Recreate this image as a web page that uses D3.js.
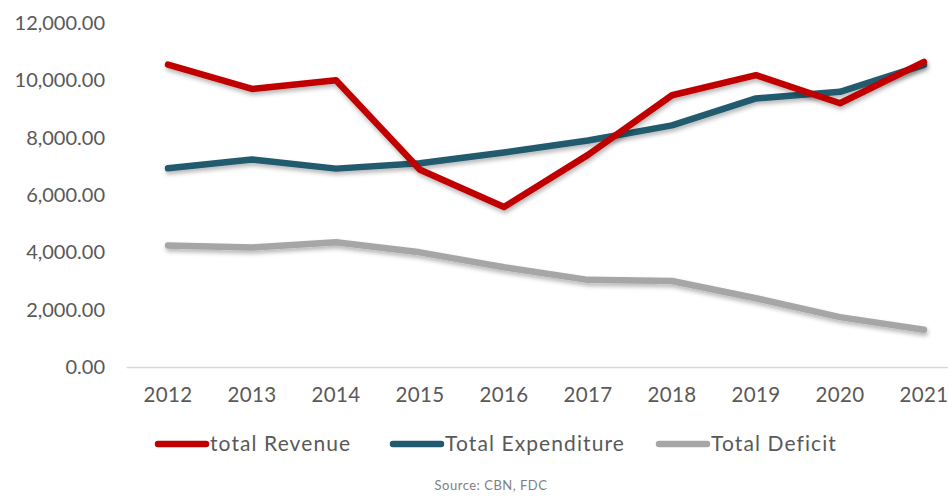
<!DOCTYPE html>
<html>
<head>
<meta charset="utf-8">
<script src="https://cdn.jsdelivr.net/npm/d3@7"></script>
<style>
  html, body { margin: 0; padding: 0; background: #fff; }
  svg { display: block; font-family: "Lato", "Open Sans", sans-serif; }
</style>
</head>
<body>
<svg id="chart" width="948" height="498"></svg>
<script>
// Nigeria federal finances, 2012–2021 (₦ billion)
const years = ["2012", "2013", "2014", "2015", "2016", "2017", "2018", "2019", "2020", "2021"];
const totalRevenue     = [10550, 9700, 10000, 6880, 5580, 7400, 9480, 10180, 9200, 10640];
const totalExpenditure = [6930, 7240, 6920, 7110, 7480, 7900, 8430, 9370, 9600, 10540];
const totalDeficit     = [4240, 4170, 4350, 4000, 3480, 3040, 3000, 2400, 1740, 1300];
const yTicks = [0, 2000, 4000, 6000, 8000, 10000, 12000];
const seriesNames = ["total Revenue", "Total Expenditure", "Total Deficit"];
const seriesColors = ["#c00000", "#215a6e", "#a6a6a6"];
const sourceNote = "Source: CBN, FDC";

const series = [totalRevenue, totalExpenditure, totalDeficit].map((vals, i) => ({
  name: seriesNames[i], color: seriesColors[i],
  values: vals.map((v, j) => ({ year: years[j], value: v }))
}));

const svg = d3.select("#chart");

const x = d3.scaleBand().domain(years).range([126, 966]).padding(0);
const y = d3.scaleLinear().domain([0, 12000]).range([367, 23]);

// soft shadow under the lines
const defs = svg.append("defs");
const f = defs.append("filter").attr("id", "shadow")
  .attr("x", "-5%").attr("y", "-20%").attr("width", "110%").attr("height", "140%");
f.append("feDropShadow").attr("dx", 1).attr("dy", 3).attr("stdDeviation", 2)
  .attr("flood-color", "#000").attr("flood-opacity", 0.28);

// y axis labels
const yAxis = d3.axisLeft(y).tickValues(yTicks).tickSize(0).tickPadding(0)
  .tickFormat(d3.format(",.2f"));
const gy = svg.append("g").attr("transform", "translate(105,0)").call(yAxis);
gy.select(".domain").remove();
gy.selectAll("text").attr("font-size", 20).attr("fill", "#595959")
  .attr("font-family", "Lato, 'Open Sans', sans-serif");

// x axis
const xAxis = d3.axisBottom(x).tickSize(0).tickPadding(20);
const gx = svg.append("g").attr("transform", `translate(0,${y(0)})`).call(xAxis);
gx.select(".domain").attr("stroke", "#d9d9d9").attr("stroke-width", 1.5);
gx.selectAll("text").attr("font-size", 20.5).attr("fill", "#595959")
  .attr("letter-spacing", 0.4)
  .attr("font-family", "Lato, 'Open Sans', sans-serif");

// series lines
const line = d3.line()
  .x(d => x(d.year) + x.bandwidth() / 2)
  .y(d => y(d.value));

svg.append("g").selectAll("path")
  .data(series.slice().reverse())
  .join("path")
  .attr("d", d => line(d.values))
  .attr("fill", "none")
  .attr("stroke", d => d.color)
  .attr("stroke-width", 6.5)
  .attr("stroke-linejoin", "round")
  .attr("stroke-linecap", "round")
  .attr("filter", "url(#shadow)");

// legend
const legendX = [158, 393, 659];
const legend = svg.append("g").selectAll("g")
  .data(series)
  .join("g")
  .attr("transform", (d, i) => `translate(${legendX[i]},444)`);
legend.append("line")
  .attr("x1", 0).attr("x2", 48).attr("y1", 0).attr("y2", 0)
  .attr("stroke", d => d.color).attr("stroke-width", 6.5)
  .attr("stroke-linecap", "round");
legend.append("text")
  .attr("x", 52).attr("y", 0).attr("dy", "0.35em")
  .attr("font-size", 21).attr("fill", "#595959")
  .attr("letter-spacing", 1.1)
  .text(d => d.name);

// source note
svg.append("text")
  .attr("x", 491).attr("y", 490)
  .attr("text-anchor", "middle")
  .attr("font-size", 13).attr("fill", "#7f7f7f")
  .attr("letter-spacing", 0.5)
  .text(sourceNote);
</script>
</body>
</html>
